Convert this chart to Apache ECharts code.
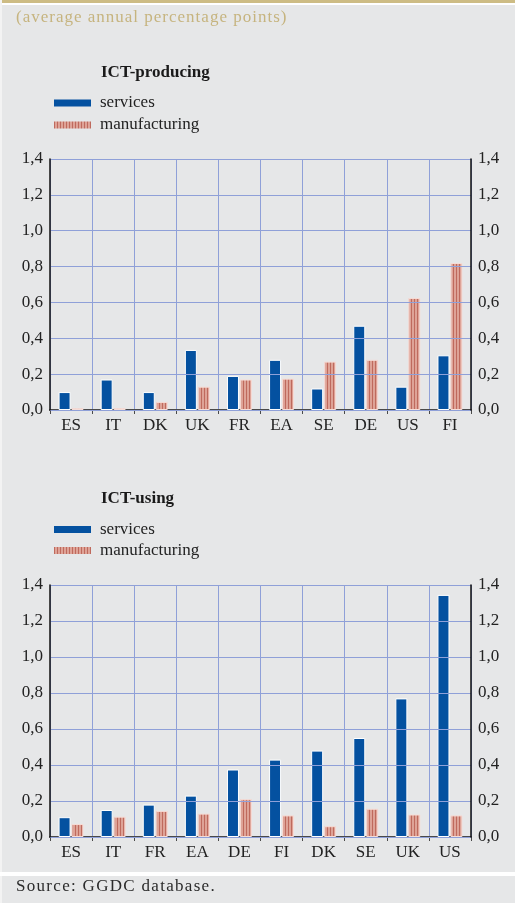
<html>
<head>
<meta charset="UTF-8"/>
<title>ICT contributions</title>
<script src="https://cdn.jsdelivr.net/npm/echarts@6/dist/echarts.min.js"></script>
<style>
	body { margin: 0; background: #e6e7e8; }
	#wrap { position: relative; width: 515px; height: 903px; }
	#chart { width: 515px; height: 903px; }
	.note { position: absolute; left: 16px; font-family: "Liberation Serif", serif; font-size: 17px; white-space: nowrap; }
	#sub { top: 7px; color: #c6b47f; letter-spacing: 1px; }
	#src { top: 876px; color: #2b2b2b; letter-spacing: 1.3px; }
</style>
</head>
<body>
<div id="wrap">
	<div id="chart"></div>
	<div class="note" id="sub">(average annual percentage points)</div>
	<div class="note" id="src">Source: GGDC database.</div>
</div>
<script>
// ICT-producing (top panel)
var prodCats = ["ES", "IT", "DK", "UK", "FR", "EA", "SE", "DE", "US", "FI"];
var prodServices = [0.10, 0.17, 0.10, 0.335, 0.19, 0.28, 0.12, 0.47, 0.13, 0.305];
var prodManuf = [0.01, 0.01, 0.045, 0.13, 0.17, 0.175, 0.27, 0.28, 0.625, 0.82];

// ICT-using (bottom panel)
var useCats = ["ES", "IT", "FR", "EA", "DE", "FI", "DK", "SE", "UK", "US"];
var useServices = [0.11, 0.15, 0.18, 0.23, 0.375, 0.43, 0.48, 0.55, 0.77, 1.345];
var useManuf = [0.072, 0.113, 0.145, 0.13, 0.21, 0.12, 0.06, 0.157, 0.125, 0.12];

var serif = "Liberation Serif";
var blue = "#0451a0";
var grid = "#8fa0d8";

// striped fill for manufacturing bars
var cv = document.createElement("canvas");
cv.width = 3; cv.height = 4;
var g = cv.getContext("2d");
g.fillStyle = "#dea397"; g.fillRect(0, 0, 3, 4);
g.fillStyle = "#bf6a5d"; g.fillRect(0, 0, 1, 4);
var stripes = { image: cv, repeat: "repeat" };

function fmt(v) { return v.toFixed(1).replace(".", ","); }

function xAx(i, cats) {
	return {
		type: "category", gridIndex: i, data: cats,
		axisLine: { lineStyle: { color: "#4a4a4a", width: 2 } },
		axisTick: { show: true, length: 4, lineStyle: { color: "#4a4a4a" } },
		axisLabel: { color: "#222", fontFamily: serif, fontSize: 17, margin: 7 },
		splitLine: { show: true, lineStyle: { color: grid, width: 1 } }
	};
}
function yAx(i, pos) {
	return {
		type: "value", gridIndex: i, position: pos, min: 0, max: 1.4, interval: 0.2, z: 5,
		axisLine: { show: true, lineStyle: { color: "#111", width: 1.5 } },
		axisTick: { show: false },
		axisLabel: { color: "#222", fontFamily: serif, fontSize: 17, margin: 7, formatter: fmt },
		splitLine: { show: pos === "left", lineStyle: { color: grid, width: 1 } }
	};
}
function bars(name, xi, yi, data, color, border) {
	return {
		name: name, type: "bar", xAxisIndex: xi, yAxisIndex: yi, data: data,
		barWidth: 12, barGap: "8%",
		itemStyle: { color: color, borderColor: border, borderWidth: 1 }
	};
}
function legendAt(top, lh) {
	return {
		orient: "vertical", left: 49, top: top, itemWidth: 37, itemHeight: 7, itemGap: 2,
		icon: "rect",
		textStyle: { fontFamily: serif, fontSize: 17, color: "#222", lineHeight: lh, padding: [0, 0, 0, 4] },
		data: [
			{ name: "services", itemStyle: { color: blue, borderWidth: 0 } },
			{ name: "manufacturing", itemStyle: { color: stripes, borderWidth: 0 } }
		]
	};
}

var chart = echarts.init(document.getElementById("chart"), null, { renderer: "canvas" });
chart.setOption({
	backgroundColor: "#e6e7e8",
	animation: false,
	title: [
		{ text: "ICT-producing", left: 96, top: 59, textStyle: { fontFamily: serif, fontSize: 17, fontWeight: "bold", color: "#1a1a1a" } },
		{ text: "ICT-using", left: 96, top: 485, textStyle: { fontFamily: serif, fontSize: 17, fontWeight: "bold", color: "#1a1a1a" } }
	],
	legend: [legendAt(88, 20), legendAt(515, 19)],
	grid: [
		{ left: 50, right: 44, top: 159, height: 251 },
		{ left: 50, right: 44, top: 585, height: 252 }
	],
	xAxis: [xAx(0, prodCats), xAx(1, useCats)],
	yAxis: [yAx(0, "left"), yAx(0, "right"), yAx(1, "left"), yAx(1, "right")],
	series: [
		bars("services", 0, 0, prodServices, blue, "#ffffff"),
		bars("manufacturing", 0, 0, prodManuf, stripes, "#f6dcd6"),
		bars("services", 1, 2, useServices, blue, "#ffffff"),
		bars("manufacturing", 1, 2, useManuf, stripes, "#f6dcd6")
	],
	graphic: [
		{ type: "rect", shape: { x: 0, y: 0, width: 515, height: 3 }, style: { fill: "#cdbc84" } },
		{ type: "rect", shape: { x: 0, y: 3, width: 515, height: 2 }, style: { fill: "#ffffff" } },
		{ type: "rect", shape: { x: 0, y: 0, width: 2, height: 903 }, style: { fill: "#f3f3f3" } },
		{ type: "rect", shape: { x: 0, y: 872, width: 515, height: 4 }, style: { fill: "#ffffff" } }
	]
});
</script>
</body>
</html>
